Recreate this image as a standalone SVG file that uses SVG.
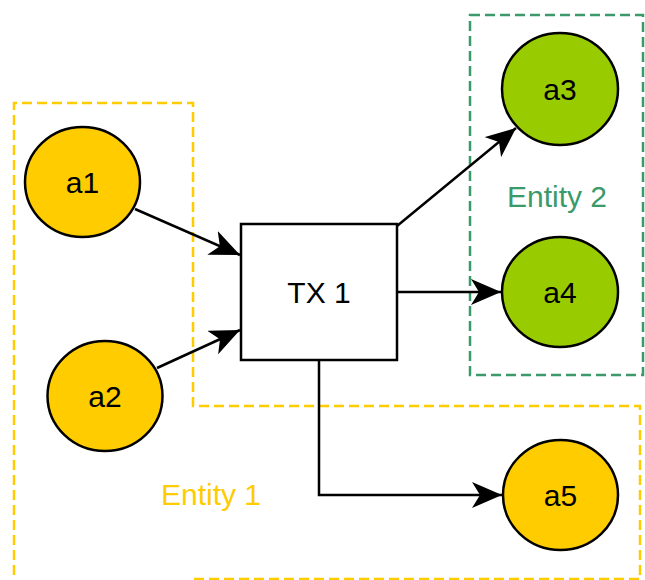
<svg xmlns="http://www.w3.org/2000/svg" width="645" height="580" viewBox="0 0 645 580">
<style>
.lbl{font-family:"Liberation Sans",Arial,sans-serif;font-size:30px;text-anchor:middle;fill:#000}
.nodeY{fill:#FFCC00;stroke:#000;stroke-width:2.5}
.nodeG{fill:#99CC00;stroke:#000;stroke-width:2.5}
.edge{fill:none;stroke:#000;stroke-width:2.5}
</style>
<defs>
<marker id="arr" markerWidth="32" markerHeight="26" refX="30" refY="13" orient="auto" markerUnits="userSpaceOnUse">
<path d="M0,0 L30,13 L0,26 L8,13 Z" fill="#000"/>
</marker>
</defs>
<g id="entity1">
<path d="M14,590 V103 H193 V406 H640 V579 H193" fill="none" stroke="#FFCC00" stroke-width="2.5" stroke-dasharray="10,5"/>
<text class="lbl" x="211" y="505" style="fill:#FFCC00">Entity 1</text>
</g>
<g id="entity2">
<rect x="470" y="15" width="173" height="360" fill="none" stroke="#3A9A6A" stroke-width="2.5" stroke-dasharray="10,5"/>
<text class="lbl" x="557" y="207" style="fill:#3A9A6A">Entity 2</text>
</g>
<g id="connectors">
<line class="edge" x1="135" y1="209" x2="240" y2="255" marker-end="url(#arr)"/>
<line class="edge" x1="157" y1="368" x2="240" y2="330" marker-end="url(#arr)"/>
<line class="edge" x1="397" y1="226" x2="516" y2="128" marker-end="url(#arr)"/>
<line class="edge" x1="397" y1="292" x2="501" y2="292" marker-end="url(#arr)"/>
<path class="edge" d="M319,360 V495 H502" marker-end="url(#arr)"/>
</g>
<g id="a1"><ellipse class="nodeY" cx="82.5" cy="182" rx="57.5" ry="55"/><text class="lbl" x="82.5" y="193">a1</text></g>
<g id="a2"><ellipse class="nodeY" cx="105" cy="396" rx="57.5" ry="55"/><text class="lbl" x="105" y="407">a2</text></g>
<g id="a3"><ellipse class="nodeG" cx="560" cy="89" rx="58" ry="56"/><text class="lbl" x="560" y="100">a3</text></g>
<g id="a4"><ellipse class="nodeG" cx="560" cy="292" rx="58" ry="55"/><text class="lbl" x="560" y="303">a4</text></g>
<g id="a5"><ellipse class="nodeY" cx="560.5" cy="495" rx="57.5" ry="55"/><text class="lbl" x="560.5" y="506">a5</text></g>
<g id="tx1"><rect x="241" y="224" width="156" height="136" fill="#fff" stroke="#000" stroke-width="2.5"/><text class="lbl" x="319" y="303">TX 1</text></g>
</svg>
